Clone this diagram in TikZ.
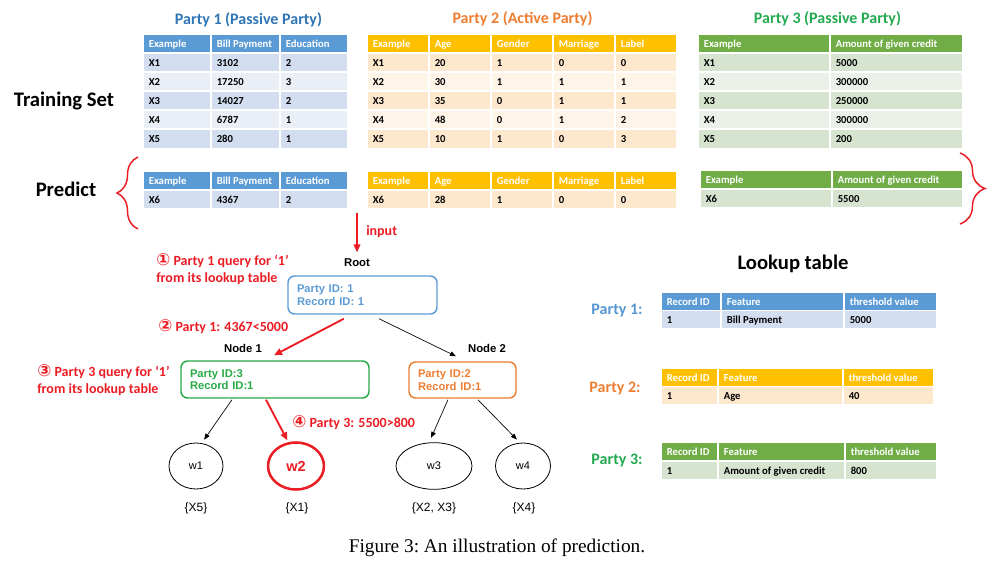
\documentclass[tikz,border=0pt]{standalone}
\usepackage{fontspec}
\setmainfont{Carlito}
\newfontfamily\arialfont{Liberation Sans}
\newfontfamily\timesfont{Liberation Serif}
\newfontfamily\symfont{DejaVu Sans}
\usetikzlibrary{arrows.meta,positioning,shapes.geometric,calc,decorations.pathreplacing}
\definecolor{p1head}{RGB}{91,155,213}
\definecolor{p1dark}{RGB}{210,222,239}
\definecolor{p1light}{RGB}{234,239,247}
\definecolor{p2head}{RGB}{255,192,0}
\definecolor{p2dark}{RGB}{253,232,206}
\definecolor{p2light}{RGB}{254,244,232}
\definecolor{p3head}{RGB}{112,173,71}
\definecolor{p3dark}{RGB}{213,227,207}
\definecolor{p3light}{RGB}{235,241,233}
\definecolor{t1}{RGB}{46,117,182}
\definecolor{t2}{RGB}{237,125,49}
\definecolor{t3}{RGB}{35,170,80}
\definecolor{l1}{RGB}{85,150,210}
\definecolor{alert}{RGB}{235,28,36}
\definecolor{rootblue}{RGB}{91,155,213}
\definecolor{nodegreen}{RGB}{40,170,70}
\definecolor{nodeorange}{RGB}{237,125,49}
\tikzset{
  cell/.style={fill=#1,draw=white,line width=1.2pt,anchor=north west,inner xsep=4.5pt,inner ysep=0pt,
    text height=7pt,text depth=1pt,font=\fontsize{8}{9.6}\selectfont\bfseries},
  title/.style={font=\fontsize{12}{14}\selectfont\bfseries,text=#1,anchor=base},
  big/.style={font=\fontsize{15.5}{18}\selectfont\bfseries,anchor=base},
  note/.style={font=\fontsize{10.5}{12.75}\selectfont\bfseries,text=alert,align=left,anchor=west,inner xsep=0pt},
  treebox/.style={draw=#1,line width=1.1pt,rounded corners=5pt,text=#1,align=left,inner xsep=6.75pt,
    font=\arialfont\fontsize{8.4}{9.5}\selectfont\bfseries},
  treelabel/.style={font=\arialfont\fontsize{8.5}{10}\selectfont\bfseries},
  leafnode/.style={ellipse,draw,line width=0.6pt,inner sep=0pt,font=\arialfont\fontsize{8.25}{10}\selectfont},
  setlabel/.style={font=\arialfont\fontsize{9}{11}\selectfont},
  link/.style={-{Triangle[length=4.5pt,width=3.5pt]},line width=0.5pt},
  redlink/.style={-{Triangle[length=6pt,width=5pt]},line width=1.4pt,draw=alert},
  bracket/.style={decorate,decoration={brace,amplitude=#1},draw=alert,line width=1.1pt},
}
\newcommand{\cnum}[1]{{\symfont\bfseries\fontsize{12.5}{12.75}\selectfont #1}}
% name, colour prefix, column borders, top, row height, rows
\newcommand{\drawtable}[6]{%
  \foreach \row [count=\i from 0] in {#6} {
    \ifnum\i=0 \def\fc{#2head}\def\tc{white}\else\ifodd\i\def\fc{#2dark}\else\def\fc{#2light}\fi\def\tc{black}\fi
    \foreach \cell [count=\j] in \row {
      \pgfmathsetmacro{\xa}{{#3}[\j-1]}
      \pgfmathsetmacro{\xb}{{#3}[\j]}
      \pgfmathsetmacro{\ya}{#4+\i*#5}
      \pgfmathsetmacro{\cw}{(\xb-\xa)*0.75}
      \pgfmathsetmacro{\tw}{\cw-9}
      \node[cell=\fc,text=\tc,minimum width=\cw pt,minimum height=#5*0.75pt] (#1-\i-\j) at (\xa,\ya) {\makebox[\tw pt][l]{\cell}};
    }
  }%
}

\begin{document}
\begin{tikzpicture}[x=0.75pt,y=-0.75pt]
    \useasboundingbox (0,0) rectangle (993,574);
    % parties
    \node[title=t1] (title1) at (248.5,25) {Party 1 (Passive Party)};
    \node[title=t2] (title2) at (522.5,24) {Party 2 (Active Party)};
    \node[title=t3] (title3) at (827.5,24) {Party 3 (Passive Party)};
    \node[big] (trainlabel) at (64,107) {Training Set};
    \node[big] (predlabel) at (66,197) {Predict};
    \drawtable{train1}{p1}{142,210,279,347}{33}{19.1}{{Example,Bill Payment,Education},{X1,3102,2},{X2,17250,3},{X3,14027,2},{X4,6787,1},{X5,280,1}}
    \drawtable{train2}{p2}{366,428,490,552,614,676}{33}{19.1}{{Example,Age,Gender,Marriage,Label},{X1,20,1,0,0},{X2,30,1,1,1},{X3,35,0,1,1},{X4,48,0,1,2},{X5,10,1,0,3}}
    \drawtable{train3}{p3}{697,829,962}{33}{19.1}{{Example,Amount of given credit},{X1,5000},{X2,300000},{X3,250000},{X4,300000},{X5,200}}
    \drawtable{pred1}{p1}{142,210,279,347}{170}{19}{{Example,Bill Payment,Education},{X6,4367,2}}
    \drawtable{pred2}{p2}{366,428,490,552,614,676}{170}{19}{{Example,Age,Gender,Marriage,Label},{X6,28,1,0,0}}
    \drawtable{pred3}{p3}{699,831,962}{169}{19}{{Example,Amount of given credit},{X6,5500}}
    \coordinate (lbbot) at (138,229);
    \coordinate (lbtop) at (138,157);
    \draw[bracket=15.75pt] (lbbot) -- (lbtop);
    \coordinate (rbtop) at (960,153);
    \coordinate (rbbot) at (960,224);
    \draw[bracket=18.75pt] (rbtop) -- (rbbot);
    % lookup tables
    \node[big] (looktitle) at (793,269) {Lookup table};
    \node[title=l1] (lookp1) at (617,315) {Party 1:};
    \node[title=t2] (lookp2) at (615,392) {Party 2:};
    \node[title=t3] (lookp3) at (617,464) {Party 3:};
    \drawtable{look1}{p1}{660,720,843,936}{291}{18.5}{{Record ID,Feature,threshold value},{1,Bill Payment,5000}}
    \drawtable{look2}{p2}{660,717,842,933}{367}{18.5}{{Record ID,Feature,threshold value},{1,Age,40}}
    \drawtable{look3}{p3}{660,717,844,936}{441}{19}{{Record ID,Feature,threshold value},{1,Amount of given credit,800}}
    % tree
    \node[treelabel] (rootlabel) at (357,263) {Root};
    \node[treebox=rootblue,minimum width=111.75pt,text width=98.25pt,minimum height=28.5pt] (root) at (362.5,295) {Party ID: 1\\Record ID: 1};
    \node[treelabel] (n1label) at (243,348) {Node 1};
    \node[treebox=nodegreen,minimum width=141pt,text width=127.5pt,minimum height=27.75pt] (n1) at (275,379.5) {Party ID:3\\Record ID:1};
    \node[treelabel] (n2label) at (487,348) {Node 2};
    \node[treebox=nodeorange,minimum width=80.25pt,text width=66.75pt,minimum height=27pt] (n2) at (462.5,380) {Party ID:2\\Record ID:1};
    \node[leafnode,minimum width=40.5pt,minimum height=34.5pt] (w1) at (196,466) {w1};
    \node[leafnode,draw=alert,line width=1.9pt,text=alert,font=\arialfont\fontsize{10.9}{12}\selectfont\bfseries,
      minimum width=42pt,minimum height=35.25pt] (w2) at (296,466) {w2};
    \node[leafnode,minimum width=57pt,minimum height=35pt] (w3) at (434,466) {w3};
    \node[leafnode,minimum width=41.25pt,minimum height=34.5pt] (w4) at (523,466) {w4};
    \node[setlabel] (set1) at (196,508) {\{X5\}};
    \node[setlabel] (set2) at (297,508) {\{X1\}};
    \node[setlabel] (set3) at (434,508) {\{X2, X3\}};
    \node[setlabel] (set4) at (524,508) {\{X4\}};
    % steps
    \coordinate (inputtop) at (357,213);
    \draw[redlink,shorten >=1.5pt] (inputtop) -- (inputtop |- rootlabel.north);
    \node[note] (inputlabel) at (366,232) {input};
    \node[note] (note1) at (156,269.5) {\cnum{①} Party 1 query for ‘1'\\from its lookup table};
    \node[note] (note2) at (158,327) {\cnum{②} Party 1: 4367<5000};
    \node[note] (note3) at (37,380) {\cnum{③} Party 3 query for ‘1'\\from its lookup table};
    \node[note] (note4) at (292,423) {\cnum{④} Party 3: 5500>800};
    \draw[redlink] ([xshift=-14pt,yshift=-3pt]root.south) -- ([xshift=-0.75pt,yshift=3.75pt]n1.north);
    \draw[link] ([xshift=12.4pt,yshift=-3pt]root.south) -- ([xshift=-4.9pt,yshift=3.75pt]n2.north);
    \draw[link] ([xshift=-32.25pt,yshift=-0.75pt]n1.south) -- ([yshift=3pt]w1.70);
    \draw[redlink] ([xshift=-6.75pt,yshift=-0.75pt]n1.south) -- ([yshift=1.5pt]w2.110);
    \draw[link] ([xshift=-10.9pt,yshift=-0.75pt]n2.south) -- ([yshift=3.4pt]w3.97);
    \draw[link] ([xshift=11.6pt,yshift=-0.75pt]n2.south) -- ([yshift=2.7pt]w4.105);
    \node[font=\timesfont\frenchspacing\fontsize{14.5}{17}\selectfont] (caption) at (497,548) {Figure 3: An illustration of prediction.};
\end{tikzpicture}
\end{document}
